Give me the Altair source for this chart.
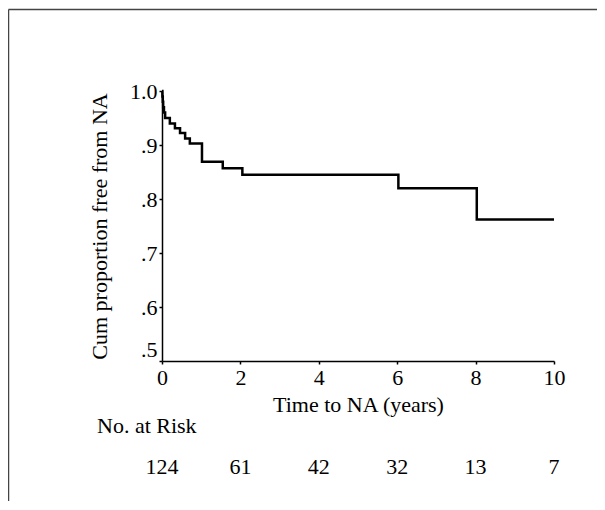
import altair as alt
import pandas as pd

# Kaplan-Meier step points
times = [0.0, 0.01, 0.02, 0.03, 0.05, 0.08, 0.2, 0.33, 0.46, 0.59, 0.71, 1.02, 1.55, 2.05, 6.03, 8.03, 10.0]
surv = [1.0, 0.99, 0.98, 0.97, 0.96, 0.95, 0.94, 0.931, 0.922, 0.912, 0.903, 0.869, 0.857, 0.845, 0.82, 0.762, 0.762]

risk_times = [0, 2, 4, 6, 8, 10]
risk_counts = ["124", "61", "42", "32", "13", "7"]

km = pd.DataFrame({"t": times, "s": surv})
risk = pd.DataFrame({"t": risk_times, "n": risk_counts})

FONT = "Liberation Serif"
FS = 22
W, H = 392, 270

xscale = alt.Scale(domain=[0, 10], nice=False)
yscale = alt.Scale(domain=[0.5, 1.0], nice=False, zero=False)

line = alt.Chart(km).mark_line(interpolate="step-after", color="black", strokeWidth=2.5).encode(
    x=alt.X("t:Q", scale=xscale,
            axis=alt.Axis(title="Time to NA (years)", values=list(range(0, 11)),
                          labelExpr="datum.value % 2 == 0 ? datum.label : ''",
                          labelFlush=False,
                          grid=False, domainColor="black", domainWidth=1.5,
                          tickColor="black", tickSize=3, tickWidth=1.5,
                          labelFont=FONT, labelFontSize=FS, labelColor="black", labelPadding=3,
                          titleFont=FONT, titleFontSize=FS, titleFontWeight="normal",
                          titleColor="black", titlePadding=6)),
    y=alt.Y("s:Q", scale=yscale,
            axis=alt.Axis(title="Cum proportion free from NA", values=[0.5, 0.6, 0.7, 0.8, 0.9, 1.0],
                          labelExpr="datum.value == 1 ? '1.0' : replace(format(datum.value, '.1f'), '0.', '.')",
                          labelBaseline={"condition": {"test": "datum.value == 0.5", "value": "bottom"},
                                         "value": "middle"},
                          grid=False, domainColor="black", domainWidth=1.5,
                          tickColor="black", tickSize=3, tickWidth=1.5,
                          labelFont=FONT, labelFontSize=FS, labelColor="black", labelPadding=2,
                          titleFont=FONT, titleFontSize=FS, titleFontWeight="normal",
                          titleColor="black", titlePadding=18)),
)

risk_text = alt.Chart(risk).mark_text(font=FONT, fontSize=FS, color="black", baseline="middle").encode(
    x=alt.X("t:Q", scale=xscale),
    y=alt.value(376),
    text="n:N",
)

risk_label = alt.Chart(pd.DataFrame({"l": ["No. at Risk"]})).mark_text(
    font=FONT, fontSize=FS, color="black", align="left", baseline="middle"
).encode(x=alt.value(-65), y=alt.value(335), text="l:N")

frame_top = alt.Chart(pd.DataFrame({"a": [0]})).mark_rule(color="#444444", strokeWidth=1.5).encode(
    x=alt.value(-153.5), x2=alt.value(500), y=alt.value(-81.5)
)
frame_left = alt.Chart(pd.DataFrame({"a": [0]})).mark_rule(color="#444444", strokeWidth=1.5).encode(
    x=alt.value(-153.5), y=alt.value(-81.5), y2=alt.value(500)
)

chart = alt.layer(frame_top, frame_left, line, risk_text, risk_label).properties(
    width=W, height=H,
    autosize=alt.AutoSizeParams(type="none"),
    padding={"left": 154, "top": 83, "right": 43, "bottom": 140},
    background="white",
).configure_view(stroke=None)

chart.save("out.html", embed_options={"renderer": "svg", "actions": False})
